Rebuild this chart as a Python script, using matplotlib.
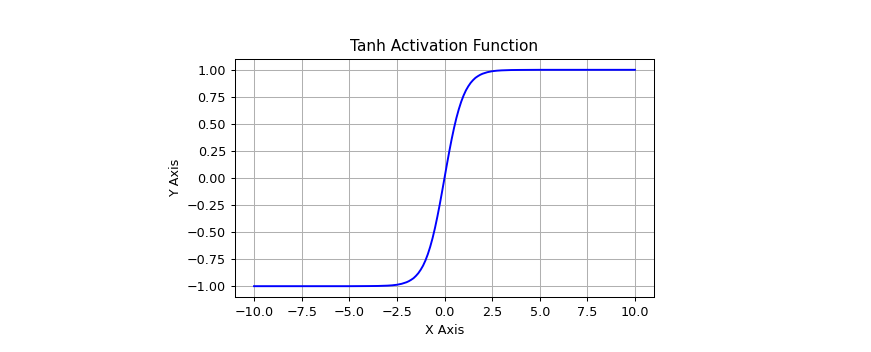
import matplotlib
matplotlib.use("Agg")
import matplotlib.pyplot as plt

# values
x_vals = [-10.0, -7.5, -5.0, -4.0, -3.5, -3.0, -2.75, -2.5, -2.25, -2.0,
          -1.875, -1.75, -1.625, -1.5, -1.375, -1.25, -1.125, -1.0, -0.875,
          -0.75, -0.625, -0.5, -0.375, -0.25, -0.125, 0.0, 0.125, 0.25, 0.375,
          0.5, 0.625, 0.75, 0.875, 1.0, 1.125, 1.25, 1.375, 1.5, 1.625, 1.75,
          1.875, 2.0, 2.25, 2.5, 2.75, 3.0, 3.5, 4.0, 5.0, 7.5, 10.0]
y_vals = [-1.0, -1.0, -1.0, -0.999, -0.998, -0.995, -0.992, -0.987, -0.978,
          -0.964, -0.954, -0.941, -0.926, -0.905, -0.880, -0.848, -0.810,
          -0.762, -0.704, -0.635, -0.555, -0.462, -0.358, -0.245, -0.124, 0.0,
          0.124, 0.245, 0.358, 0.462, 0.555, 0.635, 0.704, 0.762, 0.810, 0.848,
          0.880, 0.905, 0.926, 0.941, 0.954, 0.964, 0.978, 0.987, 0.992, 0.995,
          0.998, 0.999, 1.0, 1.0, 1.0]

W, H = 871, 352
DPI = 92
fig = plt.figure(figsize=(W / DPI, H / DPI), dpi=DPI)
ax = fig.add_axes([235 / W, 1 - 297 / H, (654 - 235) / W, (297 - 59) / H])

ax.plot(x_vals, y_vals, color="blue", linewidth=1.5)
ax.set_title("Tanh Activation Function")
ax.set_xlabel("X Axis")
ax.set_ylabel("Y Axis")
ax.set_xticks([-10, -7.5, -5, -2.5, 0, 2.5, 5, 7.5, 10])
ax.set_yticks([-1, -0.75, -0.5, -0.25, 0, 0.25, 0.5, 0.75, 1])
ax.grid(True)

fig.savefig("out.png", dpi=DPI)
